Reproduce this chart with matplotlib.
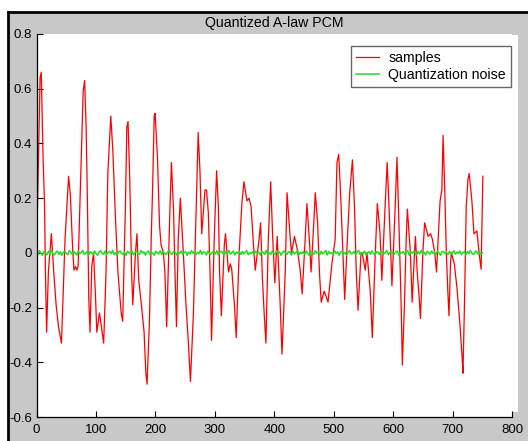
import numpy as np
import matplotlib
matplotlib.use("Agg")
import matplotlib.pyplot as plt
from matplotlib.lines import Line2D
from matplotlib.patches import Rectangle

plt.rcParams["font.family"] = ["Liberation Sans", "DejaVu Sans"]

# sample index / amplitude (turning points)
sample_x = [0, 2, 4, 6, 8, 11, 13.5, 15, 17, 20, 25, 29, 33, 37, 42, 48, 54, 57, 60.5, 63,
            65.5, 68, 70, 74.5, 78.5, 81, 83.5, 85.5, 88, 90, 93, 96, 99, 101.5, 106, 113, 117, 120, 125,
            128.5, 133, 137, 142.5, 145, 149.5, 152, 154, 157, 160, 162, 166.5, 169, 172, 176.5, 181,
            184, 186, 190, 193, 195.5, 198, 199.5, 203.5, 207, 209.5, 213.5, 216, 219, 224.5, 227,
            230.5, 233, 235.5, 238.5, 242, 247, 251.5, 255, 259,
            264, 267, 269.5, 272, 275, 278, 283.5, 286, 289, 292, 294.5, 299, 303, 306, 308, 311, 316,
            318, 323, 326, 328.5, 333, 336, 341, 345.5, 349, 354, 357.5, 361, 365, 368, 374.5, 377, 380,
            383, 386, 390, 394, 397.5, 401, 405, 410, 413, 418.5, 421.5, 427, 429, 434, 439, 443.5, 447,
            452, 455, 459, 462, 467, 469, 473, 476, 479, 484, 490.5, 497, 502.5, 505.5,
            508.5, 512.5, 516.5, 518.5, 523, 527, 531.5, 535, 538, 541, 546, 548, 553, 556, 561.5, 565,
            570, 573.5, 578, 581, 586.5, 590, 594, 598, 603.5, 606.5, 610.5, 613.5, 615.5, 619, 622, 624,
            629, 632, 635.5, 637.5, 640.5, 644, 646, 650, 653, 659, 663, 666, 670, 673, 679, 682, 684,
            687, 689.5, 692, 694, 696.5, 698, 703, 707.5, 712, 716, 717.5, 720, 723, 726, 728, 732.5,
            736, 741, 744.5, 748, 751]
sample_y = [0.0, 0.20, 0.43, 0.64, 0.66, 0.35, 0.18, -0.07, -0.29, -0.07, 0.07, -0.07, -0.19, -0.27, -0.33, 0.05, 0.28, 0.21, 0.03, -0.063,
            -0.05, -0.063, -0.05, 0.29, 0.59, 0.63, 0.46, 0.21, -0.17, -0.29, -0.05, 0.0, -0.146, -0.29, -0.22, -0.33, -0.07, 0.29, 0.50,
            0.37, 0.12, -0.07, -0.22, -0.25, 0.16, 0.46, 0.48, 0.26, -0.07, -0.19, 0.0, 0.07, -0.10, -0.19, -0.29,
            -0.44, -0.48, -0.25, 0.05, 0.25, 0.50, 0.51, 0.35, 0.10, 0.03, 0.0, -0.07, -0.27, 0.16, 0.33,
            0.16, -0.07, -0.27, 0.05, 0.20, 0.0, -0.19, -0.31, -0.47,
            -0.22, 0.03, 0.25, 0.44, 0.30, 0.07, 0.23, 0.23, 0.15, -0.07, -0.32, 0.05, 0.30, 0.17, -0.07, -0.23, 0.03,
            0.07, -0.07, -0.04, -0.06, -0.19, -0.31, 0.0, 0.18, 0.26, 0.19, 0.20, 0.17, 0.03, -0.063, 0.05, 0.11, -0.09,
            -0.22, -0.33, 0.05, 0.26, 0.05, -0.11, 0.06, -0.19, -0.37, -0.07, 0.22, 0.05, 0.0, 0.06, 0.01, -0.06, -0.15,
            0.05, 0.18, 0.05, -0.07, 0.13, 0.22, 0.11, -0.07, -0.18, -0.14, -0.18, -0.04, 0.05, 0.33,
            0.36, 0.17, -0.06, -0.17, 0.05, 0.22, 0.34, 0.17, -0.07, -0.21, 0.0, 0.0, -0.063, 0.0, -0.14, -0.31,
            0.0, 0.18, 0.07, -0.10, 0.17, 0.33, 0.12, -0.12, 0.17, 0.35, 0.05, -0.19, -0.41, -0.19, 0.05, 0.16,
            0.0, -0.18, -0.02, 0.06, -0.07, -0.17, -0.24, 0.0, 0.11, 0.06, 0.07, 0.05, 0.0, -0.07, 0.19, 0.23, 0.43,
            0.22, 0.0, -0.14, -0.23, -0.04, 0.0, -0.04, -0.13, -0.25, -0.38, -0.44, -0.19, 0.17, 0.27, 0.29, 0.19,
            0.07, 0.08, 0.0, -0.06, 0.28]

# quantization error, in thousandths
noise_milli = [3, -6, 8, -2, -9, 5, 1, -7, 6, -4, 9, -3, -8, 2, 7, -5, 4, -9, 1, 6,
               -2, -7, 8, 3, -6, 5, -1, -8, 7, -3, 2, 9, -5, -2, 6, -8, 4, 1, -6, 7,
               -4, -9, 3, 8, -1, -5, 6, -7, 2, 5, -3, 9, -6, 1, -8, 4, 7, -2, -5, 3,
               -9, 6, 2, -4, 8, -7, 1, 5, -3, -6, 9, -1, 4, -8, 2, 7, -5, 3, -2, -9,
               6, 1, -4, 8, -6, 5, -1, -7, 3, 9, -3, -5, 6, 2, -8, 4, -2, 7, -6, 1,
               5, -9, 3, -4, 8, -1, 6, -7, 2, -3, 9, -5, 4, 1, -8, 7, -2, -6, 3, 5,
               -4, 8, -9, 2, 6, -1, -7, 4, -3, 9, -5, 1, 7, -8, 3, -2, 6, -6, 5, -4,
               2, 8, -7, 1, -3, 4, -5, 6, -1, 3, -8, 5, 2, -6, 9, -4, 1, -7, 6, -2,
               -5, 8, -3, 4, -9, 2, 7, -1, -6, 5, 3, -8, 6, -4, 1, 9, -7, 2, -3, 5,
               -6, 7, -2, -9, 4, 1, -5, 8, -1, 3, -7, 6, -4, 2, 9, -8, 5, -3, 1, -6,
               7, -2, 4, -9, 3, 6, -5, 1, -8, 2, 8, -4, -1, 5, -7, 3, 9, -6, 2, -3,
               6, -8, 1, 4, -5, 7, -2, -9, 5, 3, -6, 8, -1, -4, 2, 9, -7, 1, 6, -3,
               -5, 4, 7, -8, 2, -1, 5, -6, 3, 8, -9, 4, -2, 6, 1, -7, 5, -3, 9, -4,
               2, -8, 6, 1, -5, 7, -2, 3, -6, 8, -1, -9, 4, 5, -3, 2, -7, 6, -4, 1,
               8, -5, 3, -2, 7, -6, 1, 4, -8, 5, -3, 9, -1, -6, 2, 7, -4, 3, -5, 0]
noise_x = np.linspace(0, 750, len(noise_milli))
noise_y = np.array(noise_milli) / 1000.0

x_ticks = [0, 100, 200, 300, 400, 500, 600, 700, 800]
y_ticks = [-0.6, -0.4, -0.2, 0, 0.2, 0.4, 0.6, 0.8]
y_tick_labels = ["-0.6", "-0.4", "-0.2", "0", "0.2", "0.4", "0.6", "0.8"]

W, H = 528, 441
fig = plt.figure(figsize=(W / 100, H / 100), dpi=100, facecolor="white")

# grey window area with a black frame on top and left
fig.patches.append(Rectangle((8 / W, 0), 1, (H - 12) / H, transform=fig.transFigure,
                             facecolor="#c8c8c8", edgecolor="none", zorder=-2))
fig.lines.append(Line2D([8 / W, 1], [(H - 12) / H] * 2, transform=fig.transFigure, color="black", lw=2))
fig.lines.append(Line2D([8 / W] * 2, [0, (H - 12) / H], transform=fig.transFigure, color="black", lw=2))
fig.patches.append(Rectangle((512 / W, (H - 412) / H), 6 / W, 377 / H, transform=fig.transFigure,
                             facecolor="white", edgecolor="none", zorder=-1))

ax = fig.add_axes([36.5 / W, (H - 417) / H, 475.5 / W, 383 / H])
ax.set_facecolor("white")
ax.plot(sample_x, sample_y, color="#ff0000", lw=0.9, label="samples")
ax.plot(noise_x, noise_y, color="#22dd22", lw=1.1, label="Quantization noise")

ax.set_xlim(0, 800)
ax.set_ylim(-0.6, 0.8)
ax.set_xticks(x_ticks)
ax.set_yticks(y_ticks)
ax.set_yticklabels(y_tick_labels)
ax.tick_params(direction="in", length=4, width=0.8, labelsize=9.5, colors="black")
ax.tick_params(axis="x", pad=5)
ax.tick_params(axis="y", pad=3)
for side in ["top", "right"]:
    ax.spines[side].set_visible(False)
for side in ["left", "bottom"]:
    ax.spines[side].set_linewidth(0.9)

ax.set_title("Quantized A-law PCM", fontsize=10.2, pad=5)

leg = ax.legend(loc="upper right", bbox_to_anchor=(0.998, 0.969), borderaxespad=0,
                fontsize=10.2, frameon=True, fancybox=False, handlelength=1.6,
                handletextpad=0.7, labelspacing=0.25, borderpad=0.35)
leg.get_frame().set_edgecolor("#404040")
leg.get_frame().set_linewidth(1.0)

fig.savefig("out.png", dpi=100, facecolor=fig.get_facecolor())
